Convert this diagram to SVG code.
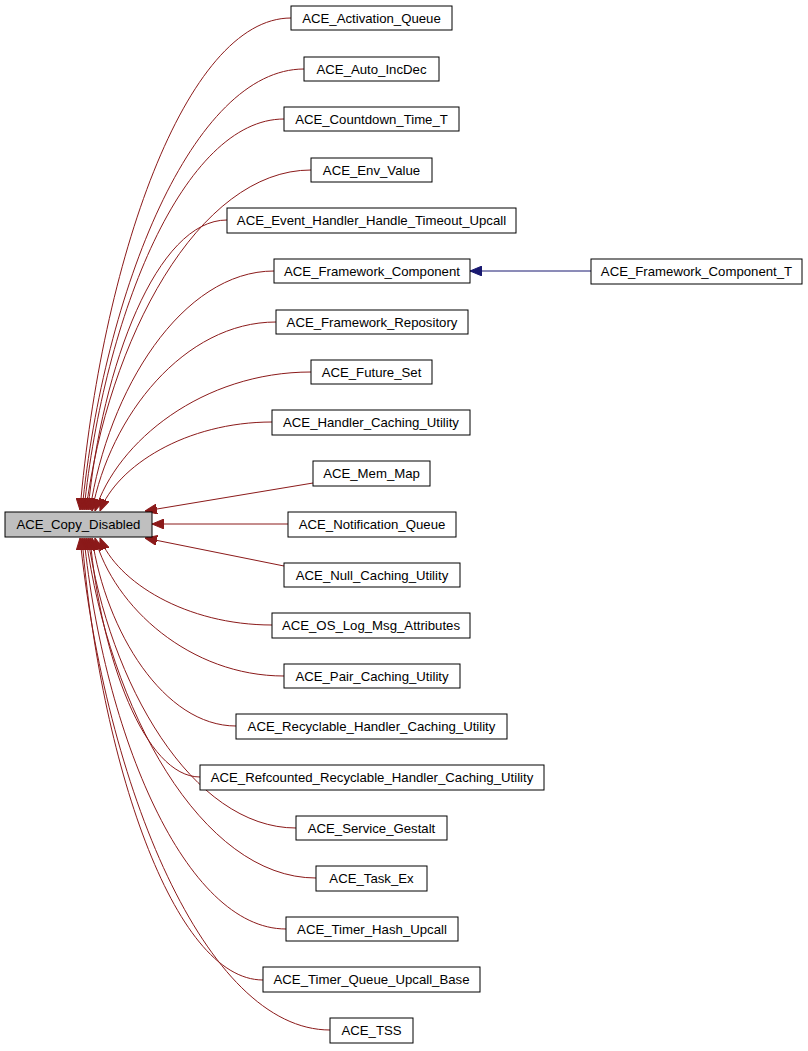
<svg xmlns="http://www.w3.org/2000/svg" width="808" height="1051" viewBox="0 0 808 1051">
<style>
.n rect{fill:#fff;stroke:#000;stroke-width:1}
.n text{font-family:"Liberation Sans",Arial,sans-serif;font-size:13.2px;text-anchor:middle}
.e path{fill:none;stroke:#8b1a1a;stroke-width:1}
</style>
<defs>
<marker id="a" viewBox="0 0 12 10" refX="12" refY="5" markerWidth="12" markerHeight="10" markerUnits="userSpaceOnUse" orient="auto"><path d="M0,0 L12,5 L0,10 Z" fill="#8b1a1a" stroke="#8b1a1a"/></marker>
<marker id="b" viewBox="0 0 12 10" refX="12" refY="5" markerWidth="12" markerHeight="10" markerUnits="userSpaceOnUse" orient="auto"><path d="M0,0 L12,5 L0,10 Z" fill="#191970" stroke="#191970"/></marker>
</defs>
<rect width="808" height="1051" fill="#fff"/>
<g class="e" id="edges">
<path marker-end="url(#a)" d="M291,18 C185,18 101,264 80,510"/>
<path marker-end="url(#a)" d="M304,69 C193,69 104,290 82,510"/>
<path marker-end="url(#a)" d="M284,119 C184,119 104,315 84,510"/>
<path marker-end="url(#a)" d="M311,170 C198,170 108,340 86,510"/>
<path marker-end="url(#a)" d="M227,220 C157,220 102,365 88,510"/>
<path marker-end="url(#a)" d="M274,271 C182,271 108,390 90,510"/>
<path marker-end="url(#a)" d="M276,322 C184,322 110,416 92,511"/>
<path marker-end="url(#a)" d="M311,372 C203,372 117,441 95,511"/>
<path marker-end="url(#a)" d="M272,422 C186,422 117,466 100,511"/>
<path marker-end="url(#a)" d="M313,483 L145,511"/>
<path marker-end="url(#a)" d="M288,524 L152,524"/>
<path marker-end="url(#a)" d="M284,566 L145,538"/>
<path marker-end="url(#a)" d="M272,625 C186,625 117,582 100,538"/>
<path marker-end="url(#a)" d="M284,676 C190,676 114,607 95,538"/>
<path marker-end="url(#a)" d="M236,726 C164,726 106,632 92,538"/>
<path marker-end="url(#a)" d="M200,777 C145,777 101,658 90,538"/>
<path marker-end="url(#a)" d="M296,828 C192,828 109,683 88,538"/>
<path marker-end="url(#a)" d="M316,878 C201,878 109,708 86,538"/>
<path marker-end="url(#a)" d="M286,929 C185,929 104,734 84,538"/>
<path marker-end="url(#a)" d="M263,980 C173,980 100,759 82,538"/>
<path marker-end="url(#a)" d="M330,1030 C205,1030 105,784 80,538"/>
<path marker-end="url(#b)" d="M591,271 L470,271" style="stroke:#191970"/>
</g>
<g class="n" id="ACE_Copy_Disabled"><rect x="5" y="512" width="147" height="25" style="fill:#bfbfbf"/><text x="78.5" y="529">ACE_Copy_Disabled</text></g>
<g class="n" id="n0"><rect x="291" y="6" width="161" height="24"/><text x="371.5" y="23">ACE_Activation_Queue</text></g>
<g class="n" id="n1"><rect x="304" y="57" width="135" height="24"/><text x="371.5" y="74">ACE_Auto_IncDec</text></g>
<g class="n" id="n2"><rect x="284" y="107" width="175" height="24"/><text x="371.5" y="124">ACE_Countdown_Time_T</text></g>
<g class="n" id="n3"><rect x="311" y="158" width="121" height="24"/><text x="371.5" y="175">ACE_Env_Value</text></g>
<g class="n" id="n4"><rect x="227" y="208" width="289" height="25"/><text x="371.5" y="225">ACE_Event_Handler_Handle_Timeout_Upcall</text></g>
<g class="n" id="n5"><rect x="274" y="259" width="196" height="24"/><text x="372" y="276">ACE_Framework_Component</text></g>
<g class="n" id="n5b"><rect x="591" y="259" width="211" height="25"/><text x="696.5" y="276">ACE_Framework_Component_T</text></g>
<g class="n" id="n6"><rect x="276" y="310" width="192" height="24"/><text x="372" y="327">ACE_Framework_Repository</text></g>
<g class="n" id="n7"><rect x="311" y="360" width="121" height="24"/><text x="371.5" y="377">ACE_Future_Set</text></g>
<g class="n" id="n8"><rect x="272" y="410" width="198" height="25"/><text x="371" y="427">ACE_Handler_Caching_Utility</text></g>
<g class="n" id="n9"><rect x="313" y="461" width="117" height="25"/><text x="371.5" y="478">ACE_Mem_Map</text></g>
<g class="n" id="n10"><rect x="288" y="512" width="168" height="25"/><text x="372" y="529">ACE_Notification_Queue</text></g>
<g class="n" id="n11"><rect x="284" y="563" width="176" height="24"/><text x="372" y="580">ACE_Null_Caching_Utility</text></g>
<g class="n" id="n12"><rect x="272" y="613" width="198" height="25"/><text x="371" y="630">ACE_OS_Log_Msg_Attributes</text></g>
<g class="n" id="n13"><rect x="284" y="664" width="176" height="24"/><text x="372" y="681">ACE_Pair_Caching_Utility</text></g>
<g class="n" id="n14"><rect x="236" y="714" width="271" height="25"/><text x="371.5" y="731">ACE_Recyclable_Handler_Caching_Utility</text></g>
<g class="n" id="n15"><rect x="200" y="765" width="344" height="25"/><text x="372" y="782">ACE_Refcounted_Recyclable_Handler_Caching_Utility</text></g>
<g class="n" id="n16"><rect x="296" y="816" width="151" height="24"/><text x="371.5" y="833">ACE_Service_Gestalt</text></g>
<g class="n" id="n17"><rect x="316" y="866" width="111" height="25"/><text x="371.5" y="883">ACE_Task_Ex</text></g>
<g class="n" id="n18"><rect x="286" y="917" width="172" height="24"/><text x="372" y="934">ACE_Timer_Hash_Upcall</text></g>
<g class="n" id="n19"><rect x="263" y="967" width="217" height="25"/><text x="371.5" y="984">ACE_Timer_Queue_Upcall_Base</text></g>
<g class="n" id="n20"><rect x="330" y="1018" width="83" height="25"/><text x="371.5" y="1035">ACE_TSS</text></g>
</svg>
